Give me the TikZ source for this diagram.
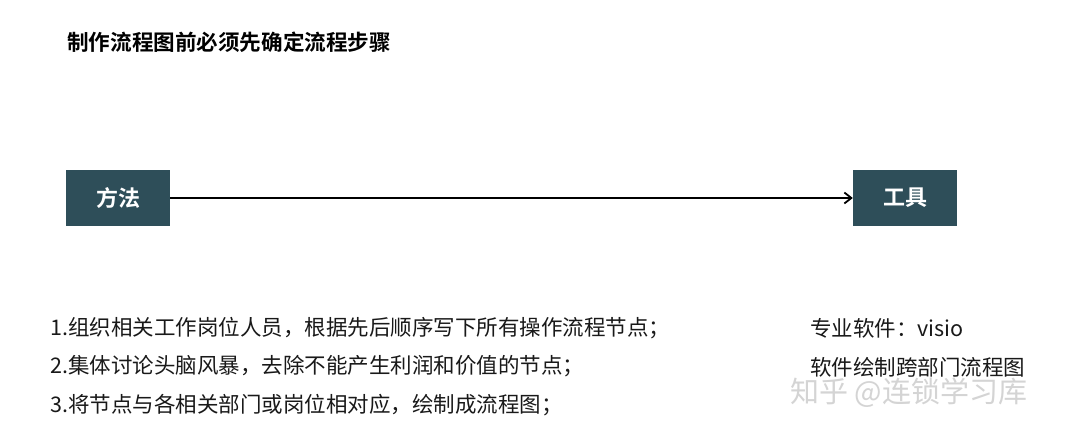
\documentclass[tikz,border=0pt]{standalone}
\usepackage{fontspec}
\newfontfamily\cjk{Noto Sans CJK SC}
\newfontfamily\cjkb{Noto Sans CJK SC Bold}
\usetikzlibrary{arrows.meta}
\definecolor{boxteal}{HTML}{2E4E59}
\definecolor{wmgray}{HTML}{D4D4D4}
\tikzset{
  stepbox/.style={fill=boxteal, minimum width=104pt, minimum height=56pt, inner sep=0pt, text=white, font=\cjkb\fontsize{22}{22}\selectfont},
  bodytext/.style={anchor=west, inner sep=0pt, font=\cjk\fontsize{21.5}{22}\selectfont, text=black!90},
}
\begin{document}
\begin{tikzpicture}[x=1pt,y=-1pt]
\useasboundingbox[fill=white] (0,0) rectangle (1080,436);
\node[anchor=west, inner sep=0pt, font=\cjkb\fontsize{21.6}{22}\selectfont] (title) at (67,42) {制作流程图前必须先确定流程步骤};
\node[stepbox] (method) at (118,198) {方法};
\node[stepbox] (tool) at (905,198) {工具};
\draw[line width=1.8pt, -{Straight Barb[length=7pt,width=11pt]}] (method.east) -- (tool.west);
\node[bodytext] (l1) at (50,328) {1.组织相关工作岗位人员，根据先后顺序写下所有操作流程节点；};
\node[bodytext] (l2) at (50,366) {2.集体讨论头脑风暴，去除不能产生利润和价值的节点；};
\node[bodytext] (l3) at (50,405) {3.将节点与各相关部门或岗位相对应，绘制成流程图；};
\node[bodytext] (r1) at (810,328) {专业软件：visio};
\node[bodytext] (r2) at (810,367) {软件绘制跨部门流程图};
\node[anchor=west, inner sep=0pt, font=\cjk\fontsize{29}{30}\selectfont, text=wmgray] (wm) at (790,393) {知乎 @连锁学习库};
\end{tikzpicture}
\end{document}
